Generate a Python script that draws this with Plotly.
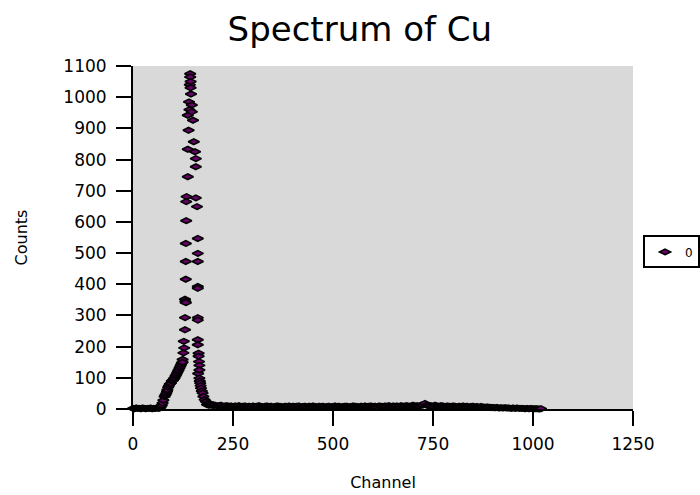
import plotly.graph_objects as go

# --- data ---
low_channels = list(range(0, 72, 4))
low_counts = [2, 1, 3, 2, 2, 1, 3, 2, 1, 2, 2, 3, 1, 2, 2, 3, 2, 4]

peak_channels = [70, 72, 74, 76, 79, 81, 83, 85, 86, 88, 90, 92, 95, 97, 100, 102, 104, 106,
                 108, 110, 112, 114, 116, 118, 120, 122, 124, 124, 126, 127, 128, 130, 130, 130,
                 131, 132, 132, 132, 132, 133, 133, 134, 137, 137, 137, 139, 140, 141, 142, 143,
                 143, 144, 144, 145, 147, 147, 150, 152, 155, 157, 157, 157, 160, 162, 162, 162,
                 162, 162, 162, 162, 162, 162, 163, 164, 164, 165, 166, 166, 166, 167, 168, 169,
                 170, 172, 174, 176, 179, 182, 187, 192, 200]
peak_counts = [8, 12, 19, 28, 40, 45, 50, 56, 62, 70, 75, 80, 83, 90, 92, 97, 99, 105,
               110, 115, 120, 125, 131, 136, 142, 148, 159, 150, 180, 217, 196, 254, 293, 352,
               345, 341, 416, 473, 531, 604, 665, 681, 745, 833, 942, 894, 985, 960, 1040, 1075,
               1065, 1050, 1030, 1010, 975, 953, 926, 857, 825, 803, 777, 677, 649, 547, 499, 473,
               393, 387, 293, 285, 222, 206, 114, 179, 169, 152, 99, 140, 125, 90, 83, 75,
               67, 58, 51, 40, 30, 24, 19, 16, 14]

base_channels = list(range(185, 900, 5))
base_counts = [14, 12, 13, 11, 12, 10, 11, 12, 9, 10,
               11, 9, 10, 8, 10, 9, 11, 8, 9, 10,
               8, 9, 7, 10, 8, 9, 11, 8, 7, 9,
               10, 8, 9, 7, 8, 10, 9, 8, 7, 9,
               8, 10, 7, 9, 8, 9, 10, 7, 8, 9,
               7, 9, 8, 10, 8, 7, 9, 8, 9, 7,
               8, 9, 7, 8, 10, 8, 9, 7, 8, 9,
               9, 7, 8, 10, 9, 8, 7, 9, 8, 10,
               8, 9, 10, 8, 9, 7, 10, 9, 8, 10,
               9, 11, 8, 10, 9, 10, 8, 11, 9, 10,
               11, 9, 10, 12, 10, 11, 9, 12, 13, 18,
               12, 10, 11, 9, 12, 10, 9, 11, 10, 8,
               10, 9, 8, 10, 9, 7, 9, 8, 10, 8,
               9, 7, 8, 9, 7, 8, 6, 8, 7, 6,
               7, 6, 5]

tail_channels = list(range(900, 1025, 5))
tail_counts = [5, 4, 5, 3, 4, 3, 4, 3, 3, 2, 3, 2, 3, 2, 2, 2, 1, 2, 1, 2, 1, 1, 1, 0, 1]

x_ticks = [0, 250, 500, 750, 1000, 1250]
y_ticks = list(range(0, 1200, 100))

channels = low_channels + peak_channels + base_channels + tail_channels
counts = low_counts + peak_counts + base_counts + tail_counts

FONT = "DejaVu Sans, Liberation Sans, Arial, sans-serif"

fig = go.Figure()
fig.add_trace(go.Scatter(
    x=channels, y=counts, mode="markers", name="0",
    marker=dict(symbol="diamond-wide", size=8, color="#6a006a",
                line=dict(color="black", width=1.6)),
    cliponaxis=False,
))

fig.update_layout(
    width=700, height=495,
    margin=dict(l=133, r=67, t=66, b=86, autoexpand=False),
    paper_bgcolor="white", plot_bgcolor="#d9d9d9",
    font=dict(family=FONT, color="black", size=16),
    title=dict(text="Spectrum of Cu", x=0.514, xanchor="center", y=0.942, yanchor="middle",
               yref="container", font=dict(size=34, family=FONT)),
    showlegend=True,
    legend=dict(x=1.02, y=0.458, xanchor="left", yanchor="middle",
                bordercolor="black", borderwidth=2, bgcolor="white",
                font=dict(size=12), itemwidth=30),
    xaxis=dict(range=[0, 1250], tickvals=x_ticks, ticks="outside", ticklen=15, tickwidth=2,
               tickcolor="black", showline=True, linewidth=2, linecolor="black",
               showgrid=False, zeroline=False, tickfont=dict(size=17), ticklabelstandoff=4,
               title=dict(text="Channel", font=dict(size=16), standoff=23)),
    yaxis=dict(range=[0, 1100], tickvals=y_ticks, ticks="outside", ticklen=15, tickwidth=2,
               tickcolor="black", showline=True, linewidth=2, linecolor="black",
               showgrid=False, zeroline=False, tickfont=dict(size=17), ticklabelstandoff=6,
               title=dict(text="Counts", font=dict(size=16), standoff=32)),
)

fig.write_html("out.html")
